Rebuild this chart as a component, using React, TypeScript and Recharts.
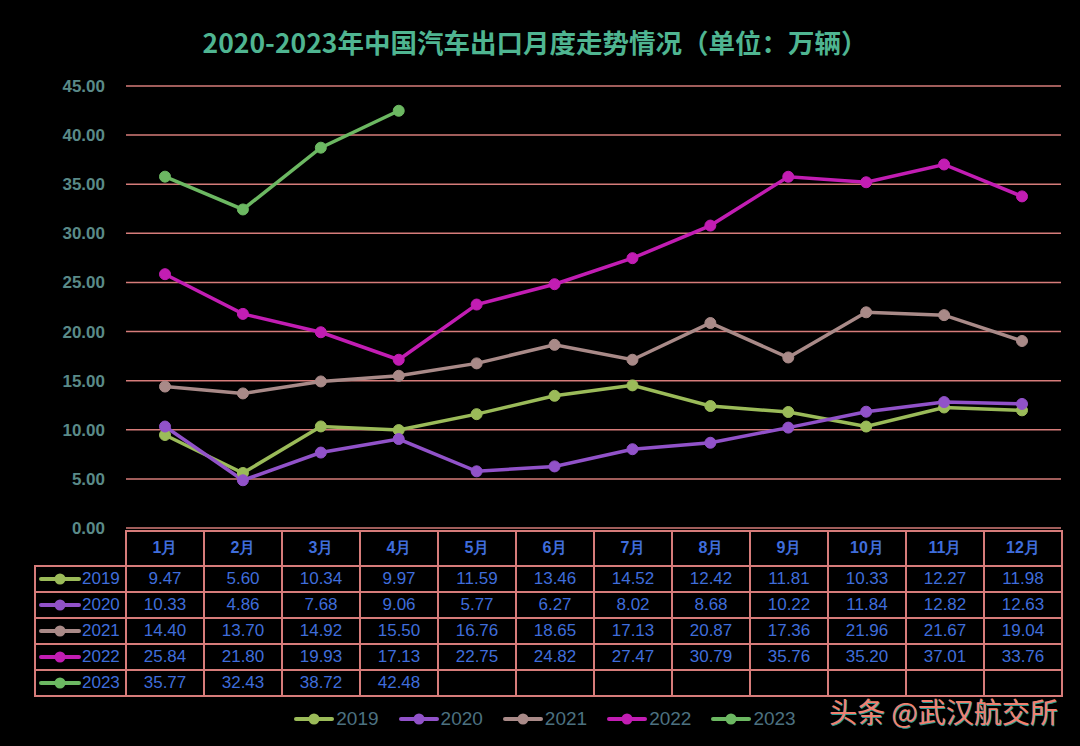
import { CartesianGrid, Legend, Line, LineChart, XAxis, YAxis } from "recharts";

const MONTHS = ["1月", "2月", "3月", "4月", "5月", "6月", "7月", "8月", "9月", "10月", "11月", "12月"];
const YEARS = ["2019", "2020", "2021", "2022", "2023"];

const Y2019 = [9.47, 5.6, 10.34, 9.97, 11.59, 13.46, 14.52, 12.42, 11.81, 10.33, 12.27, 11.98];
const Y2020 = [10.33, 4.86, 7.68, 9.06, 5.77, 6.27, 8.02, 8.68, 10.22, 11.84, 12.82, 12.63];
const Y2021 = [14.4, 13.7, 14.92, 15.5, 16.76, 18.65, 17.13, 20.87, 17.36, 21.96, 21.67, 19.04];
const Y2022 = [25.84, 21.8, 19.93, 17.13, 22.75, 24.82, 27.47, 30.79, 35.76, 35.2, 37.01, 33.76];
const Y2023 = [35.77, 32.43, 38.72, 42.48, null, null, null, null, null, null, null, null];

const Y_TICKS = [0, 5, 10, 15, 20, 25, 30, 35, 40, 45];

const COLORS: Record<string, string> = {
  "2019": "#9bbb59",
  "2020": "#9152c9",
  "2021": "#a98a88",
  "2022": "#c21db3",
  "2023": "#6cb862",
};

const SERIES: Record<string, (number | null)[]> = {
  "2019": Y2019,
  "2020": Y2020,
  "2021": Y2021,
  "2022": Y2022,
  "2023": Y2023,
};

const data = MONTHS.map((m, i) => {
  const row: Record<string, string | number | null> = { month: m };
  YEARS.forEach((y) => {
    row[y] = SERIES[y][i];
  });
  return row;
});

const GRID = "#d67c7a";
const BLUE = "#3f6ddb";
const FONT = "'Liberation Sans', Arial, sans-serif";

function Marker({ color, width = 26 }: { color: string; width?: number }) {
  return (
    <svg width={width} height={14} style={{ display: "block" }}>
      <line x1={2} y1={7} x2={width - 2} y2={7} stroke={color} strokeWidth={4} strokeLinecap="round" />
      <circle cx={width / 2} cy={7} r={5.5} fill={color} />
    </svg>
  );
}

function LegendContent() {
  return (
    <div style={{ display: "flex", justifyContent: "center", gap: 20, fontFamily: FONT }}>
      {YEARS.map((y) => (
        <div key={y} style={{ display: "flex", alignItems: "center", gap: 2 }}>
          <Marker color={COLORS[y]} width={40} />
          <span style={{ color: "#4c7180", fontSize: 19 }}>{y}</span>
        </div>
      ))}
    </div>
  );
}

export default function App() {
  const cell = {
    border: `2px solid ${GRID}`,
    color: BLUE,
    fontSize: 17,
    textAlign: "center" as const,
    padding: 0,
    height: 24,
    width: 76,
  };
  return (
    <div
      style={{
        position: "absolute",
        left: 0,
        top: 0,
        width: 1080,
        height: 746,
        background: "#000",
        overflow: "hidden",
        fontFamily: FONT,
      }}
    >
      <div
        style={{
          position: "absolute",
          top: 22,
          left: 0,
          width: 1070,
          textAlign: "center",
          color: "#4fb591",
          fontSize: 26.5,
          fontWeight: "bold",
          fontFamily: "'Noto Sans CJK SC', sans-serif",
        }}
      >
        2020-2023年中国汽车出口月度走势情况（单位：万辆）
      </div>

      <div style={{ position: "absolute", left: 0, top: 0 }}>
        <LineChart
          width={1080}
          height={746}
          data={data}
          margin={{ top: 86, right: 19, left: 0, bottom: 196 }}
        >
          <CartesianGrid vertical={false} stroke={GRID} strokeWidth={1.5} />
          <XAxis dataKey="month" hide padding={{ left: 39, right: 39 }} />
          <YAxis
            width={126}
            domain={[0, 45]}
            ticks={Y_TICKS}
            tickFormatter={(v) => Number(v).toFixed(2)}
            axisLine={false}
            tickLine={false}
            tickSize={0}
            tickMargin={21}
            tick={{ fill: "#5a8a88", fontSize: 17, fontWeight: "bold", fontFamily: FONT }}
          />
          {YEARS.map((y) => (
            <Line
              key={y}
              dataKey={y}
              stroke={COLORS[y]}
              strokeWidth={3.5}
              dot={{ r: 5.5, fill: COLORS[y], stroke: COLORS[y], strokeWidth: 1 }}
              activeDot={false}
              connectNulls={false}
              isAnimationActive={false}
            />
          ))}
          <Legend
            verticalAlign="bottom"
            content={<LegendContent />}
            wrapperStyle={{ left: 20, bottom: 16, width: 1050 }}
          />
        </LineChart>
      </div>

      <table
        style={{
          position: "absolute",
          left: 34,
          top: 530,
          borderCollapse: "collapse",
          fontFamily: FONT,
        }}
      >
        <tbody>
          <tr>
            <td style={{ width: 90, borderLeft: "none", borderTop: "none", padding: 0 }} />
            {MONTHS.map((m) => (
              <td key={m} style={{ ...cell, height: 33, fontWeight: "bold", fontSize: 16 }}>
                {m}
              </td>
            ))}
          </tr>
          {YEARS.map((y) => (
            <tr key={y}>
              <td style={{ ...cell, width: 88, textAlign: "left" }}>
                <div style={{ display: "flex", alignItems: "center", gap: 1, paddingLeft: 3 }}>
                  <Marker color={COLORS[y]} width={42} />
                  <span style={{ fontSize: 17 }}>{y}</span>
                </div>
              </td>
              {SERIES[y].map((v, i) => (
                <td key={i} style={cell}>
                  {v == null ? "" : v.toFixed(2)}
                </td>
              ))}
            </tr>
          ))}
        </tbody>
      </table>

      <div
        style={{
          position: "absolute",
          left: 829,
          top: 691,
          color: "#f08070",
          fontSize: 28,
          fontFamily: "'Noto Sans CJK SC', sans-serif",
          textShadow: "1px 1px 0 #2a9a90",
        }}
      >
        头条 @武汉航交所
      </div>
    </div>
  );
}
